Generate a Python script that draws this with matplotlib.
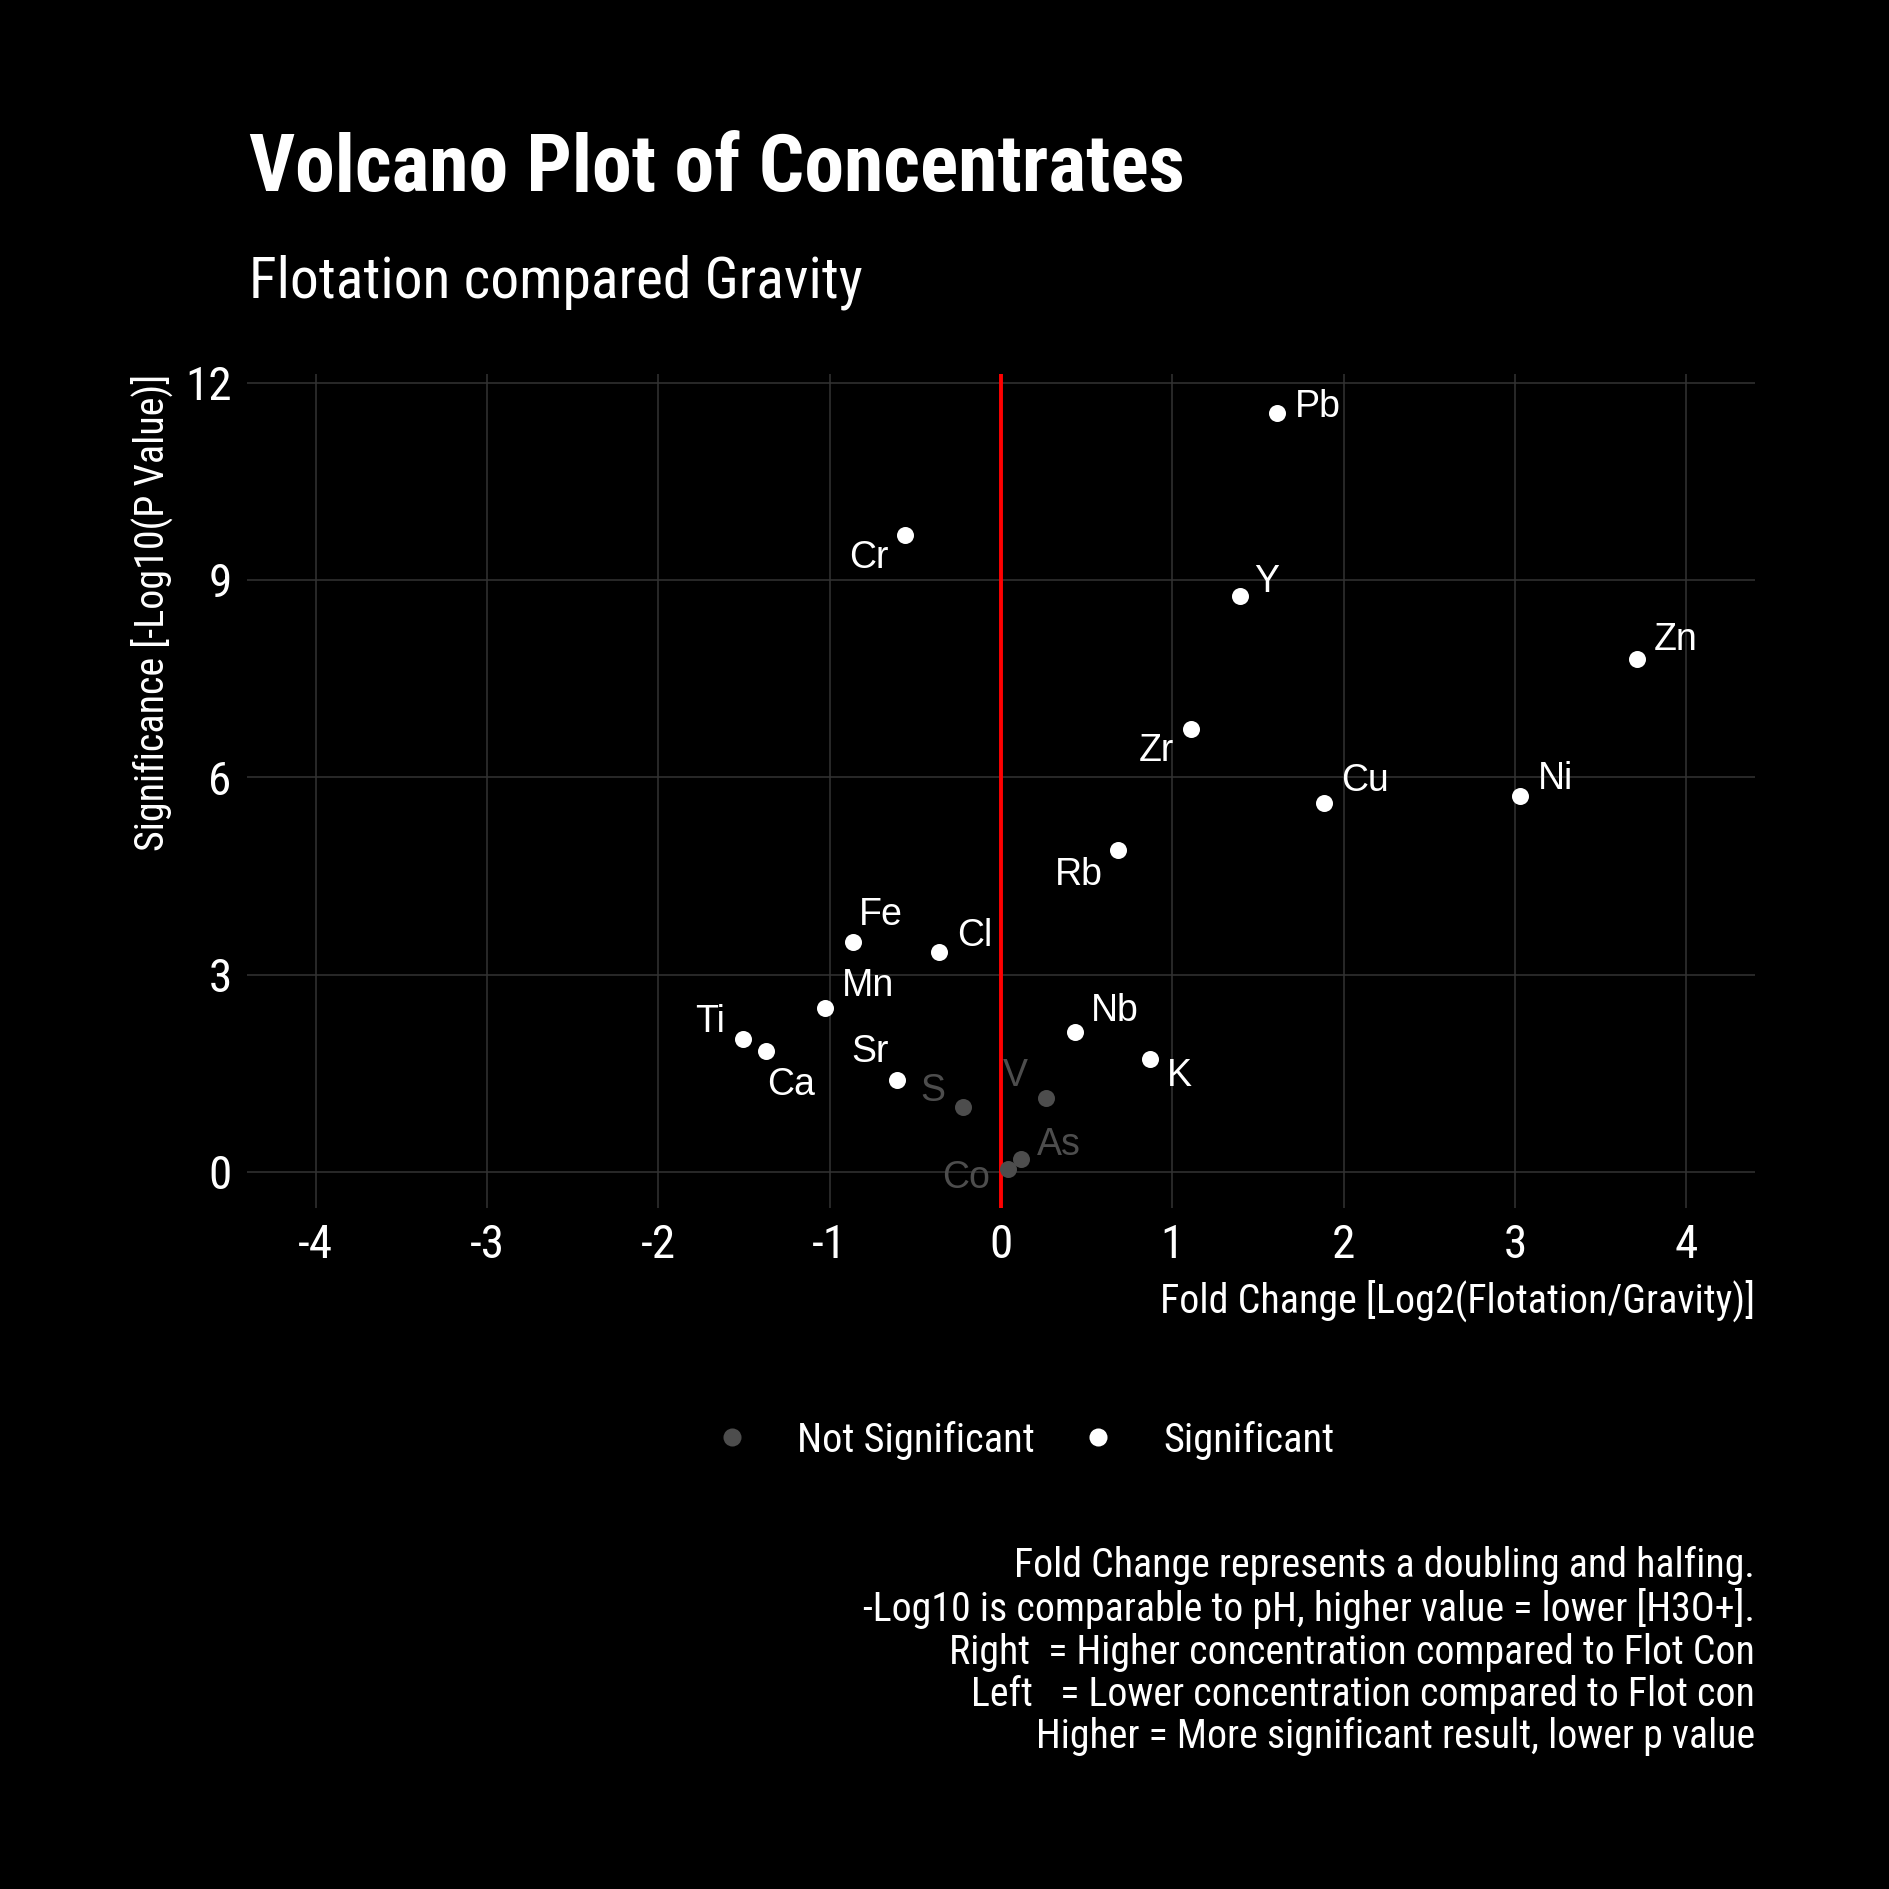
import matplotlib
matplotlib.use('Agg')
import matplotlib.pyplot as plt
from matplotlib import font_manager as fm
from matplotlib.lines import Line2D


def pick(fams):
    for f in fams:
        try:
            fm.findfont(fm.FontProperties(family=f), fallback_to_default=False)
            return f
        except Exception:
            pass
    return 'DejaVu Sans'


COND = pick(['Roboto Condensed', 'Roboto'])
LAB = pick(['Liberation Sans', 'Arimo', 'DejaVu Sans'])

# ---------------- data ----------------
elements = ['Pb', 'Cr', 'Y', 'Zn', 'Zr', 'Cu', 'Ni', 'Rb', 'Fe', 'Cl',
            'Mn', 'Nb', 'Ti', 'Ca', 'K', 'Sr', 'S', 'V', 'As', 'Co']
fold_change = [1.613, -0.558, 1.392, 3.711, 1.106, 1.887, 3.030, 0.685, -0.866, -0.360,
               -1.029, 0.429, -1.506, -1.372, 0.868, -0.609, -0.219, 0.260, 0.114, 0.043]
significance = [11.54, 9.68, 8.75, 7.80, 6.74, 5.61, 5.71, 4.89, 3.50, 3.34,
                2.49, 2.12, 2.02, 1.84, 1.72, 1.40, 0.99, 1.13, 0.19, 0.04]
status = ['Significant'] * 16 + ['Not Significant'] * 4
legend_labels = ['Not Significant', 'Significant']
x_ticks = [-4, -3, -2, -1, 0, 1, 2, 3, 4]
y_ticks = [0, 3, 6, 9, 12]

# label placement (repel-like offsets in pixels)
label_offsets = {
    'Pb': (40, 6), 'Cr': (-37, -23), 'Y': (27, 14), 'Zn': (39, 19), 'Zr': (-34, -22),
    'Cu': (41, 22), 'Ni': (35, 17), 'Rb': (-40, -25), 'Fe': (28, 27), 'Cl': (35, 16),
    'Mn': (43, 22), 'Nb': (40, 21), 'Ti': (-33, 17), 'Ca': (25, -34), 'K': (30, -17),
    'Sr': (-27, 28), 'S': (-31, 16), 'V': (-30, 22), 'As': (38, 14), 'Co': (-42, -9),
}

colors = {'Significant': '#ffffff', 'Not Significant': '#4d4d4d'}

# ---------------- figure ----------------
W = 1889
fig = plt.figure(figsize=(18.89, 18.89), dpi=100, facecolor='black')
ax = fig.add_axes([247 / W, 1 - 1208 / W, (1755 - 247) / W, (1208 - 374) / W])
ax.set_facecolor('black')

ax.set_xlim(-4.4, 4.4)
ax.set_ylim(-0.55, 12.13)
ax.set_xticks(x_ticks)
ax.set_yticks(y_ticks)
ax.set_xticklabels([str(t) for t in x_ticks])
ax.set_yticklabels([str(t) for t in y_ticks])
ax.grid(True, color='#333333', linewidth=1.1)
ax.set_axisbelow(True)
for sp in ax.spines.values():
    sp.set_visible(False)
ax.tick_params(length=0, colors='white', labelsize=34, pad=11)
for lab in ax.get_xticklabels() + ax.get_yticklabels():
    lab.set_fontfamily(COND)

ax.axvline(0, color='#ff0000', linewidth=2.8, zorder=2)

for st in legend_labels:
    xs = [x for x, s in zip(fold_change, status) if s == st]
    ys = [y for y, s in zip(significance, status) if s == st]
    ax.scatter(xs, ys, s=150, color=colors[st], linewidths=0, zorder=3)

for name, x, y, st in zip(elements, fold_change, significance, status):
    dx, dy = label_offsets[name]
    ax.annotate(name, (x, y), xytext=(dx, dy), textcoords='offset pixels',
                ha='center', va='center', color=colors[st], fontsize=27,
                family=LAB, zorder=4)

# ---------------- texts ----------------
fig.text(249 / W, 1 - 191 / W, 'Volcano Plot of Concentrates', color='white',
         fontsize=57.5, fontweight='bold', family=COND, ha='left', va='baseline')
fig.text(249 / W, 1 - 297 / W, 'Flotation compared Gravity', color='white',
         fontsize=41.5, family=COND, ha='left', va='baseline')

fig.text(152 / W, 1 - 374 / W, 'Significance [-Log10(P Value)]', color='white',
         fontsize=28.8, family=COND, rotation=90, ha='center', va='top')
fig.text(1755 / W, 1 - 1301 / W, 'Fold Change [Log2(Flotation/Gravity)]', color='white',
         fontsize=28.8, family=COND, ha='right', va='center')

handles = [Line2D([], [], marker='o', linestyle='none', markersize=13,
                  markerfacecolor=colors[s], markeredgewidth=0) for s in legend_labels]
leg = fig.legend(handles, legend_labels, loc='center', bbox_to_anchor=(1023 / W, 1 - 1440 / W),
                 ncol=2, frameon=False, handlelength=1.0, handletextpad=1.1,
                 columnspacing=1.08, borderpad=0, prop={'family': COND, 'size': 29.2})
for t in leg.get_texts():
    t.set_color('white')

caption = ('Fold Change represents a doubling and halfing.\n'
           '-Log10 is comparable to pH, higher value = lower [H3O+].\n'
           'Right  = Higher concentration compared to Flot Con\n'
           'Left   = Lower concentration compared to Flot con\n'
           'Higher = More significant result, lower p value')
fig.text(1755 / W, 1 - 1651 / W, caption, color='white', fontsize=28.7, family=COND,
         ha='right', va='center', multialignment='right', linespacing=1.11)

fig.savefig('out.png', dpi=100, facecolor='black')
